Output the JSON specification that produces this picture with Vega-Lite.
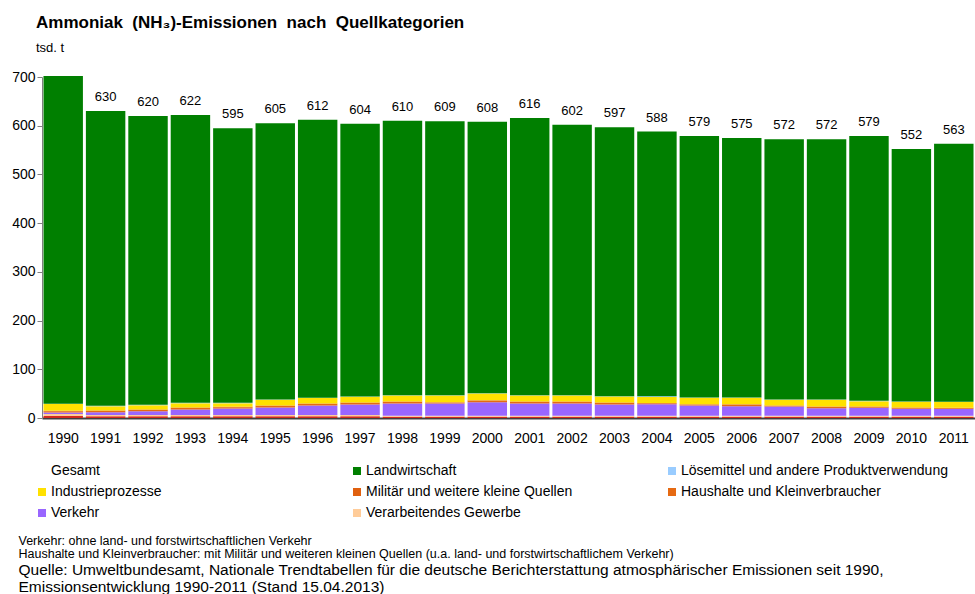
{
  "$schema": "https://vega.github.io/schema/vega-lite/v6.json",
  "autosize": {"type": "none"},
  "width": 933,
  "height": 341,
  "padding": {"left": 42, "top": 77, "right": 0, "bottom": 176},
  "background": "white",
  "config": {"view": {"stroke": null}, "font": "Liberation Sans"},
  "title": {
    "text": "Ammoniak\u00a0 (NH₃)-Emissionen\u00a0 nach\u00a0 Quellkategorien",
    "subtitle": "tsd. t",
    "anchor": "start",
    "frame": "group",
    "dx": -6,
    "font": "Liberation Sans",
    "fontSize": 17,
    "fontWeight": "bold",
    "color": "black",
    "subtitleFont": "Liberation Sans",
    "subtitleFontSize": 13,
    "subtitleColor": "black",
    "subtitlePadding": 10,
    "offset": 14
  },
  "datasets": {
    "cats": [
      {"code": "EW", "cat": "Energiewirtschaft", "k": 0},
      {"code": "VG", "cat": "Verarbeitendes Gewerbe", "k": 1},
      {"code": "VK", "cat": "Verkehr", "k": 2},
      {"code": "HK", "cat": "Haushalte und Kleinverbraucher", "k": 3},
      {"code": "MQ", "cat": "Militär und weitere kleine Quellen", "k": 4},
      {"code": "IP", "cat": "Industrieprozesse", "k": 5},
      {"code": "LM", "cat": "Lösemittel und andere Produktverwendung", "k": 6},
      {"code": "LW", "cat": "Landwirtschaft", "k": 7}
    ],
    "parts": [
      {"year": "1990", "EW": 4, "VG": 4, "VK": 3.4, "HK": 2.4, "MQ": 1, "IP": 13.7, "LM": 0.7, "LW": 672.8},
      {"year": "1991", "EW": 3.5, "VG": 2.5, "VK": 6.0, "HK": 2.4, "MQ": 1, "IP": 8.9, "LM": 0.7, "LW": 605.0},
      {"year": "1992", "EW": 3.5, "VG": 2.5, "VK": 8.1, "HK": 2.4, "MQ": 1, "IP": 8.9, "LM": 0.7, "LW": 592.9},
      {"year": "1993", "EW": 3.5, "VG": 2.5, "VK": 11.5, "HK": 3.1, "MQ": 1, "IP": 8.9, "LM": 0.7, "LW": 590.8},
      {"year": "1994", "EW": 3.5, "VG": 2.5, "VK": 13.6, "HK": 2.4, "MQ": 1, "IP": 7.5, "LM": 0.7, "LW": 563.8},
      {"year": "1995", "EW": 3.5, "VG": 2.5, "VK": 15.6, "HK": 3.1, "MQ": 1, "IP": 11.6, "LM": 0.7, "LW": 567.0},
      {"year": "1996", "EW": 3.5, "VG": 2.5, "VK": 19.8, "HK": 3.1, "MQ": 1, "IP": 10.9, "LM": 0.7, "LW": 570.5},
      {"year": "1997", "EW": 3.5, "VG": 2.5, "VK": 21.7, "HK": 3.1, "MQ": 1, "IP": 11.6, "LM": 0.7, "LW": 559.9},
      {"year": "1998", "EW": 2.5, "VG": 2.3, "VK": 24.9, "HK": 3.1, "MQ": 1, "IP": 12.3, "LM": 0.7, "LW": 563.2},
      {"year": "1999", "EW": 2.5, "VG": 2.3, "VK": 24.9, "HK": 1.7, "MQ": 1, "IP": 13.7, "LM": 0.7, "LW": 562.2},
      {"year": "2000", "EW": 2.5, "VG": 2.3, "VK": 27.6, "HK": 3.1, "MQ": 1, "IP": 13.7, "LM": 0.7, "LW": 557.1},
      {"year": "2001", "EW": 2.5, "VG": 2.3, "VK": 24.9, "HK": 3.1, "MQ": 1, "IP": 12.3, "LM": 0.7, "LW": 569.2},
      {"year": "2002", "EW": 2.5, "VG": 2.3, "VK": 24.9, "HK": 3.1, "MQ": 1, "IP": 12.3, "LM": 0.7, "LW": 555.2},
      {"year": "2003", "EW": 2.5, "VG": 2.3, "VK": 22.9, "HK": 3.1, "MQ": 1, "IP": 12.3, "LM": 0.7, "LW": 552.2},
      {"year": "2004", "EW": 2.5, "VG": 2.3, "VK": 23.5, "HK": 1.7, "MQ": 1, "IP": 12.3, "LM": 1.5, "LW": 543.2},
      {"year": "2005", "EW": 2.5, "VG": 2.3, "VK": 20.9, "HK": 1.7, "MQ": 1, "IP": 13.0, "LM": 0.7, "LW": 536.9},
      {"year": "2006", "EW": 2.5, "VG": 2.3, "VK": 19.5, "HK": 3.1, "MQ": 1, "IP": 13.0, "LM": 0.7, "LW": 532.9},
      {"year": "2007", "EW": 2.5, "VG": 2.3, "VK": 18.8, "HK": 1.1, "MQ": 1, "IP": 11.6, "LM": 0.7, "LW": 534.0},
      {"year": "2008", "EW": 2.5, "VG": 2.3, "VK": 15.4, "HK": 2.4, "MQ": 1, "IP": 13.7, "LM": 0.7, "LW": 534.0},
      {"year": "2009", "EW": 2.5, "VG": 2.3, "VK": 16.1, "HK": 1.7, "MQ": 1, "IP": 11.0, "LM": 0.7, "LW": 543.7},
      {"year": "2010", "EW": 2.5, "VG": 2.3, "VK": 14.1, "HK": 1.7, "MQ": 1, "IP": 11.6, "LM": 0.7, "LW": 518.1},
      {"year": "2011", "EW": 2.5, "VG": 2.3, "VK": 13.5, "HK": 1.7, "MQ": 1, "IP": 11.6, "LM": 0.7, "LW": 529.7}
    ],
    "totals": [
      {"year": "1991", "total": 630}, {"year": "1992", "total": 620}, {"year": "1993", "total": 622},
      {"year": "1994", "total": 595}, {"year": "1995", "total": 605}, {"year": "1996", "total": 612},
      {"year": "1997", "total": 604}, {"year": "1998", "total": 610}, {"year": "1999", "total": 609},
      {"year": "2000", "total": 608}, {"year": "2001", "total": 616}, {"year": "2002", "total": 602},
      {"year": "2003", "total": 597}, {"year": "2004", "total": 588}, {"year": "2005", "total": 579},
      {"year": "2006", "total": 575}, {"year": "2007", "total": 572}, {"year": "2008", "total": 572},
      {"year": "2009", "total": 579}, {"year": "2010", "total": 552}, {"year": "2011", "total": 563}
    ]
  },
  "layer": [
    {
      "data": {"name": "parts"},
      "transform": [
        {"fold": ["EW", "VG", "VK", "HK", "MQ", "IP", "LM", "LW"], "as": ["code", "v"]},
        {"lookup": "code", "from": {"data": {"name": "cats"}, "key": "code", "fields": ["cat", "k"]}}
      ],
      "mark": {"type": "bar"},
      "encoding": {
        "x": {
          "field": "year", "type": "ordinal",
          "scale": {"paddingInner": 0.07, "paddingOuter": 0.035},
          "title": ["Verkehr: ohne land- und forstwirtschaftlichen Verkehr", "Haushalte und Kleinverbraucher: mit Militär und weiteren kleinen Quellen (u.a. land- und forstwirtschaftlichem Verkehr)"],
          "axis": {
            "labelAngle": 0, "labelFontSize": 14, "labelColor": "black", "labelPadding": 13,
            "ticks": false, "domainColor": "#404040", "domainWidth": 2,
            "titleFontSize": 12.5, "titleFontWeight": "normal", "titleColor": "black",
            "titleAlign": "left", "titleBaseline": "top", "titleAnchor": "start",
            "titleX": -24, "titleY": 116, "titleLineHeight": 13
          }
        },
        "y": {
          "field": "v", "type": "quantitative", "stack": "zero",
          "scale": {"domain": [0, 700], "nice": false},
          "title": ["Quelle: Umweltbundesamt, Nationale Trendtabellen für die deutsche Berichterstattung atmosphärischer Emissionen seit 1990,", "Emissionsentwicklung 1990-2011 (Stand 15.04.2013)"],
          "axis": {
            "values": [0, 100, 200, 300, 400, 500, 600, 700],
            "grid": false, "tickSize": 5, "tickColor": "#808080", "domainColor": "#808080",
            "labelFontSize": 14, "labelColor": "black", "labelPadding": 2,
            "titleAngle": 0, "titleFontSize": 15.5, "titleFontWeight": "normal", "titleColor": "black",
            "titleAlign": "left", "titleBaseline": "top", "titleAnchor": "start",
            "titleX": -24, "titleY": 485, "titleLineHeight": 17
          }
        },
        "color": {
          "field": "cat", "type": "nominal",
          "scale": {
            "domain": ["Gesamt", "Landwirtschaft", "Lösemittel und andere Produktverwendung", "Industrieprozesse", "Militär und weitere kleine Quellen", "Haushalte und Kleinverbraucher", "Verkehr", "Verarbeitendes Gewerbe", "Energiewirtschaft"],
            "range": ["transparent", "#007f00", "#99ccff", "#ffe100", "#e0600e", "#e66a12", "#9966ff", "#ffcc99", "#d42a1e"]
          },
          "legend": {
            "orient": "none", "legendX": -7, "legendY": 387,
            "columns": 3, "gridAlign": "all", "columnPadding": 32, "rowPadding": 7,
            "symbolType": "square", "symbolSize": 64, "symbolStrokeWidth": 0,
            "labelFontSize": 14, "labelColor": "black", "labelLimit": 400, "labelOffset": 2,
            "title": null,
            "values": ["Gesamt", "Industrieprozesse", "Verkehr", "Landwirtschaft", "Militär und weitere kleine Quellen", "Verarbeitendes Gewerbe", "Lösemittel und andere Produktverwendung", "Haushalte und Kleinverbraucher"]
          }
        },
        "order": {"field": "k", "type": "quantitative", "sort": "ascending"}
      }
    },
    {
      "data": {"name": "totals"},
      "mark": {"type": "text", "baseline": "bottom", "dy": -7, "fontSize": 13, "color": "black"},
      "encoding": {
        "x": {"field": "year", "type": "ordinal"},
        "y": {"field": "total", "type": "quantitative"},
        "text": {"field": "total", "type": "quantitative"}
      }
    }
  ]
}
